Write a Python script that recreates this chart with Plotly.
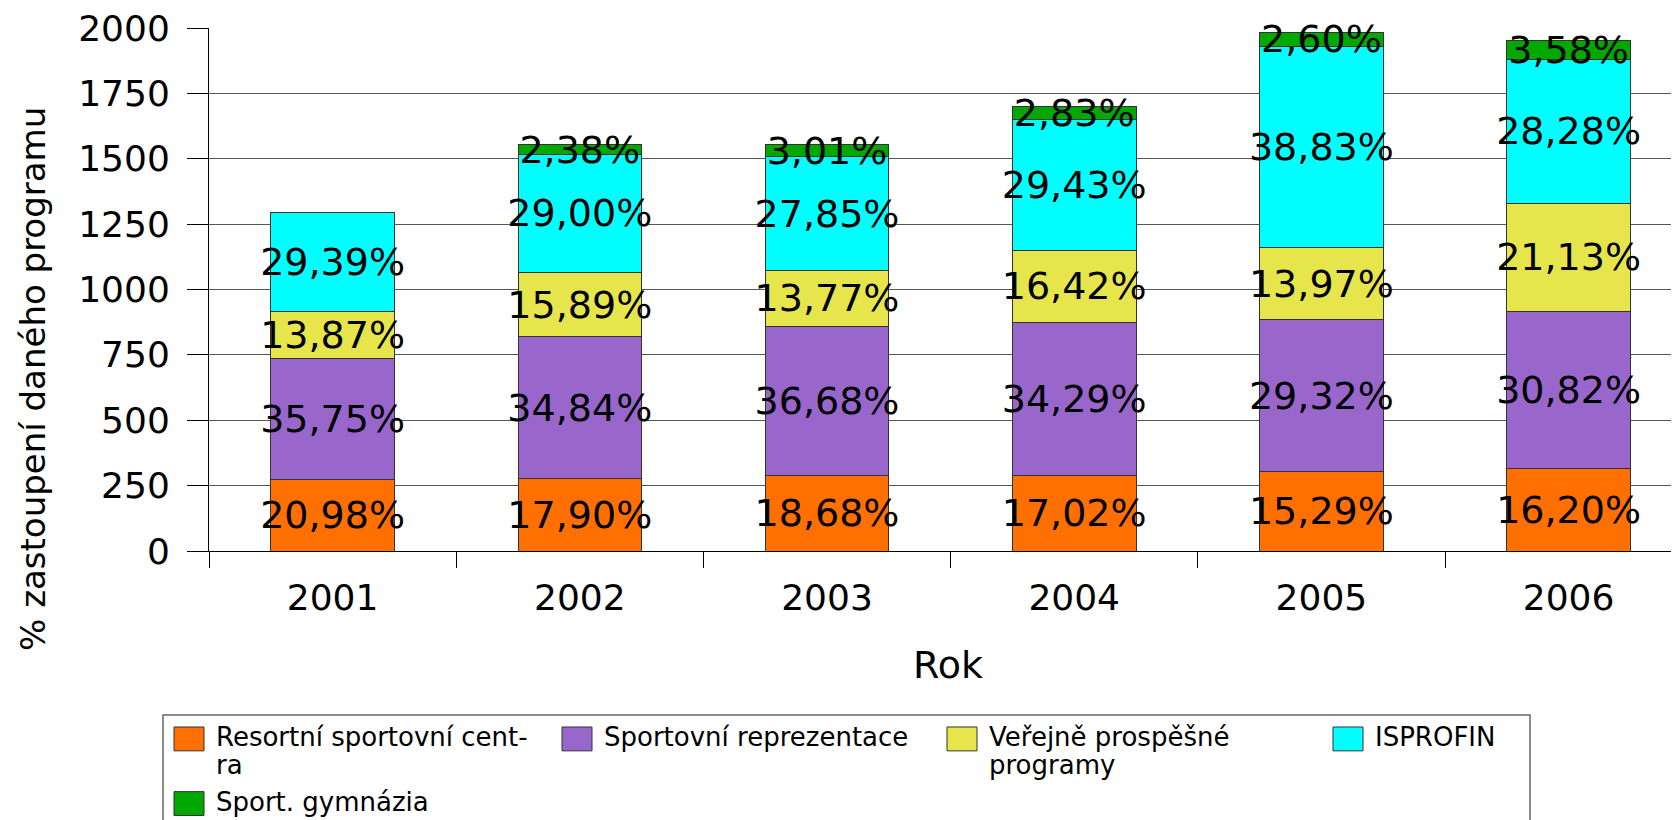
import plotly.graph_objects as go

# ---------------- data ----------------
years = ["2001", "2002", "2003", "2004", "2005", "2006"]

series_names = [
    "Resortní sportovní centra",
    "Sportovní reprezentace",
    "Veřejně prospěšné programy",
    "ISPROFIN",
    "Sport. gymnázia",
]
legend_lines = [
    ["Resortní sportovní cent-", "ra"],
    ["Sportovní reprezentace"],
    ["Veřejně prospěšné", "programy"],
    ["ISPROFIN"],
    ["Sport. gymnázia"],
]
colors = ["#FF7000", "#9966CC", "#E6E64C", "#00FFFF", "#00A800"]

resortni = [272, 278, 290, 289, 303, 316]
reprezentace = [463, 541, 570, 583, 581, 601]
verejne = [180, 247, 214, 279, 277, 412]
isprofin = [381, 450, 433, 500, 770, 552]
gymnazia = [0, 37, 47, 48, 52, 70]

resortni_lbl = ["20,98%", "17,90%", "18,68%", "17,02%", "15,29%", "16,20%"]
reprezentace_lbl = ["35,75%", "34,84%", "36,68%", "34,29%", "29,32%", "30,82%"]
verejne_lbl = ["13,87%", "15,89%", "13,77%", "16,42%", "13,97%", "21,13%"]
isprofin_lbl = ["29,39%", "29,00%", "27,85%", "29,43%", "38,83%", "28,28%"]
gymnazia_lbl = ["", "2,38%", "3,01%", "2,83%", "2,60%", "3,58%"]

y_ticks = [0, 250, 500, 750, 1000, 1250, 1500, 1750, 2000]

values = [resortni, reprezentace, verejne, isprofin, gymnazia]
labels = [resortni_lbl, reprezentace_lbl, verejne_lbl, isprofin_lbl, gymnazia_lbl]

# ---------------- layout geometry (pixels) ----------------
OFF = 8                      # page offset of the figure inside the browser
W, H = 1679, 820
L, R, T, B = 201, 0, 17, 277
PW, PH = W - L - R, H - T - B
CAT_W = 247.2


def px(x):
    """screen x pixel -> paper x"""
    return (x - OFF - L) / PW


def py(y):
    """screen y pixel -> paper y"""
    return (H - B - (y - OFF)) / PH


FONT = "DejaVu Sans"

fig = go.Figure()
for name, vals, lbls, col in zip(series_names, values, labels, colors):
    fig.add_trace(go.Bar(
        x=years, y=vals, name=name,
        marker=dict(color=col, line=dict(color="#333333", width=1)),
        text=lbls, textposition="inside", insidetextanchor="middle",
        textangle=0, constraintext="none",
        insidetextfont=dict(family=FONT, size=38, color="black"),
        cliponaxis=False, showlegend=False,
    ))

# manual legend (box, swatches, labels)
shapes = [dict(type="rect", xref="paper", yref="paper",
               x0=px(163), x1=px(1530), y0=py(716), y1=py(860),
               line=dict(color="#666666", width=1.5), fillcolor="rgba(0,0,0,0)", layer="above")]
annotations = []
sw_x = [174, 562, 947, 1333, 174]
sw_y = [728, 728, 728, 728, 793]
for lines, col, sx, sy in zip(legend_lines, colors, sw_x, sw_y):
    shapes.append(dict(type="rect", xref="paper", yref="paper",
                       x0=px(sx), x1=px(sx + 30), y0=py(sy), y1=py(sy + 24),
                       fillcolor=col, line=dict(color="#333333", width=1), layer="above"))
    for i, line in enumerate(lines):
        annotations.append(dict(xref="paper", yref="paper", x=px(sx + 40), y=py(sy + 10 + 28.5 * i),
                                xanchor="left", yanchor="middle", align="left", showarrow=False,
                                text=line, font=dict(family=FONT, size=26, color="black")))

annotations.append(dict(xref="paper", yref="paper", x=px(33), y=py(378),
                        xanchor="center", yanchor="middle", textangle=-90, showarrow=False,
                        text="% zastoupení daného programu",
                        font=dict(family=FONT, size=34, color="black")))

fig.update_layout(
    width=W, height=H, autosize=False,
    margin=dict(l=L, r=R, t=T, b=B, pad=0),
    paper_bgcolor="white", plot_bgcolor="white",
    barmode="stack", bargap=0.5,
    font=dict(family=FONT, color="black"),
    showlegend=False,
    shapes=shapes, annotations=annotations,
    xaxis=dict(type="category", range=[-0.5, -0.5 + PW / CAT_W],
               tickson="boundaries", ticks="outside", ticklen=16, tickcolor="black",
               showline=True, linecolor="black", linewidth=1, showgrid=False,
               ticklabelstandoff=15,
               tickfont=dict(family=FONT, size=36, color="black"),
               title=dict(text="Rok", font=dict(family=FONT, size=38, color="black"), standoff=34)),
    yaxis=dict(range=[0, 2000], tickvals=y_ticks, ticks="outside", ticklen=21, tickcolor="black",
               showline=True, linecolor="black", linewidth=1,
               showgrid=True, gridcolor="#555555", gridwidth=1, zeroline=False,
               ticklabelstandoff=10, ticklabeloverflow="allow",
               tickfont=dict(family=FONT, size=36, color="black")),
)

fig.write_html("out.html")
